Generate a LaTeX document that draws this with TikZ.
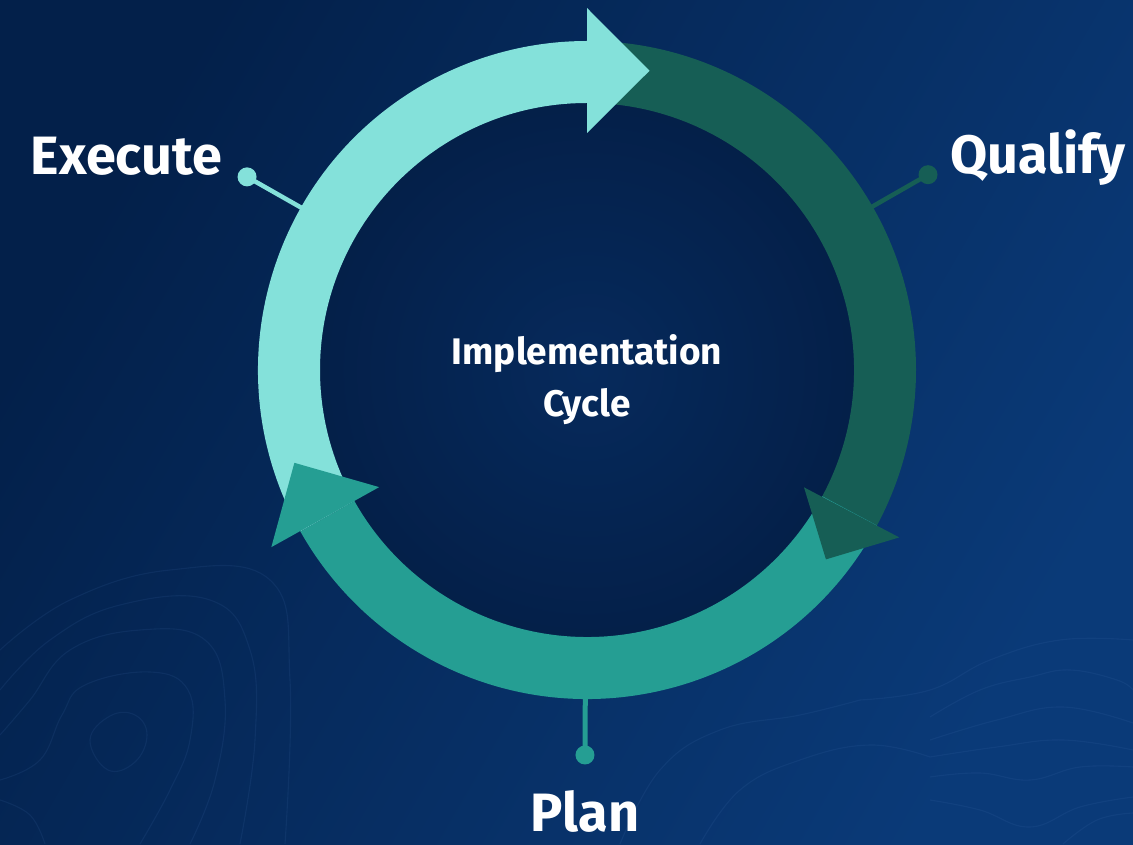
\documentclass[tikz,border=0pt]{standalone}
\usepackage{fontspec}
\setmainfont{Fira Sans}
\usetikzlibrary{calc}

\definecolor{execcol}{HTML}{84E1DA}
\definecolor{qualcol}{HTML}{165E55}
\definecolor{plancol}{HTML}{259E93}
\definecolor{bgA}{HTML}{03204A}
\definecolor{bgB}{HTML}{0A3A78}
\definecolor{hubA}{HTML}{062A5C}
\definecolor{hubB}{HTML}{041E46}
\definecolor{contourcol}{HTML}{4A78B8}

% ring radii (outer / inner)
\newcommand{\Rout}{329}
\newcommand{\Rin}{267}

\begin{document}
\begin{tikzpicture}[x=1pt,y=1pt,
  label text/.style={font=\fontsize{54}{60}\selectfont\bfseries, text=white, inner sep=0pt},
  hub text/.style={font=\fontsize{37}{44}\selectfont\bfseries, text=white, inner sep=0pt},
  pin dot/.style={circle, inner sep=0pt, minimum size=19pt},
  pin line/.style={line width=4.5pt},
  contour line/.style={draw=contourcol, draw opacity=0.12, line width=1.1pt},
]
\useasboundingbox (0,0) rectangle (1133,844);

% background
\shade[top color=bgA, bottom color=bgB, shading angle=60] (0,0) rectangle (1133,844);

% faint topographic lines
\begin{scope}[yshift=844pt, yscale=-1]
  \draw[contour line] plot[smooth cycle, tension=0.7] coordinates {(90,740) (110,716) (135,715) (147,735) (135,762) (108,770)};
  \draw[contour line] plot[smooth, tension=0.7] coordinates {(0,780) (40,760) (62,715) (85,685) (150,672) (188,690) (190,740) (170,790) (140,844)};
  \draw[contour line] plot[smooth, tension=0.7] coordinates {(0,735) (30,700) (70,650) (140,630) (205,640) (225,700) (215,780) (190,844)};
  \draw[contour line] plot[smooth, tension=0.7] coordinates {(0,690) (50,640) (120,605) (210,600) (250,650) (255,740) (240,844)};
  \draw[contour line] plot[smooth, tension=0.7] coordinates {(0,650) (70,600) (170,570) (270,580) (290,680) (285,844)};
  \draw[contour line] plot[smooth, tension=0.7] coordinates {(0,800) (30,815) (45,844)};

  \draw[contour line] plot[smooth, tension=0.7] coordinates {(930,717) (980,690) (1030,677) (1070,670) (1117,680) (1133,690)};
  \draw[contour line] plot[smooth, tension=0.7] coordinates {(930,740) (997,720) (1063,707) (1133,723)};
  \draw[contour line] plot[smooth, tension=0.7] coordinates {(930,757) (997,747) (1063,740) (1133,750)};
  \draw[contour line] plot[smooth, tension=0.7] coordinates {(930,777) (980,773) (1030,780) (1080,767) (1133,767)};
  \draw[contour line] plot[smooth, tension=0.7] coordinates {(930,800) (980,810) (1030,827) (1080,807) (1133,797)};
  \draw[contour line] plot[smooth, tension=0.7] coordinates {(1063,844) (1097,820) (1133,813)};
  \draw[contour line] plot[smooth, tension=0.7] coordinates {(860,700) (930,690) (990,660) (1060,640) (1133,640)};
  \draw[contour line] plot[smooth, tension=0.7] coordinates {(700,844) (740,790) (800,760) (870,745) (930,757)};
  \draw[contour line] plot[smooth, tension=0.7] coordinates {(620,844) (660,770) (720,730) (800,715) (860,700)};
\end{scope}

\coordinate (C) at (587,474);

% inner disk
\shade[inner color=hubA, outer color=hubB] (C) circle[radius=\Rin+40];

% pins
\node[pin dot, fill=execcol] (execdot) at ($(C)+(150.4:391)$) {};
\coordinate (execring) at ($(C)+(150.4:315)$);
\draw[pin line, execcol] (execdot.center) -- (execring);

\node[pin dot, fill=qualcol] (qualdot) at ($(C)+(29.8:393)$) {};
\coordinate (qualring) at ($(C)+(29.8:315)$);
\draw[pin line, qualcol] (qualdot.center) -- (qualring);

\node[pin dot, fill=plancol] (plandot) at ($(C)+(-90.3:385)$) {};
\coordinate (planring) at ($(C)+(-90.3:315)$);
\draw[pin line, plancol, line width=5pt] (plandot.center) -- (planring);

% arrow shafts
\fill[execcol] ($(C)+(209.4:\Rout)$) arc[start angle=209.4, end angle=90, radius=\Rout]
  -- ($(C)+(90:\Rin)$) arc[start angle=90, end angle=209.4, radius=\Rin] -- cycle;
\fill[qualcol] ($(C)+(90:\Rout)$) arc[start angle=90, end angle=-28.2, radius=\Rout]
  -- ($(C)+(-28.2:\Rin)$) arc[start angle=-28.2, end angle=90, radius=\Rin] -- cycle;
\fill[plancol] ($(C)+(-28.2:\Rout)$) arc[start angle=-28.2, end angle=-150.6, radius=\Rout]
  -- ($(C)+(-150.6:\Rin)$) arc[start angle=-150.6, end angle=-28.2, radius=\Rin] -- cycle;

% arrow heads
\fill[execcol] ($(C)+(90:237)$) -- ($(C)+(90:362)$) -- ($(C)+(78.2:305.7)$) -- cycle;
\fill[qualcol] ($(C)+(-28.4:246.7)$) -- ($(C)+(-28.2:354.3)$) -- ($(C)+(-38.4:304.9)$) -- cycle;
\fill[plancol] ($(C)+(209.4:238.6)$) -- ($(C)+(209.3:362)$) -- ($(C)+(197.6:307)$) -- cycle;

% labels
\node[label text, anchor=base east] (exec) at (222,669) {Execute};
\node[label text, anchor=base west] (qual) at (950,670) {Qualify};
\node[label text, anchor=base] (plan) at (585,13) {Plan};

\node[hub text, anchor=base] (hubtop) at (587,479) {Implementation};
\node[hub text, anchor=base] (hubbot) at (587,427) {Cycle};
\end{tikzpicture}
\end{document}
